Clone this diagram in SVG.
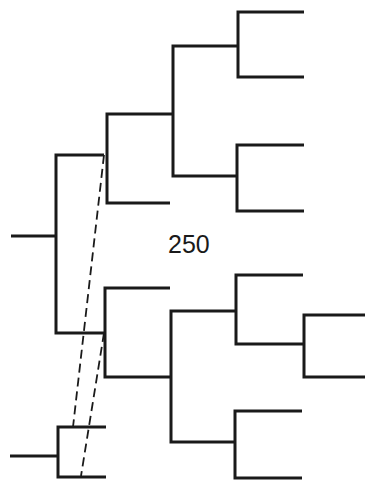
<svg xmlns="http://www.w3.org/2000/svg" width="365" height="480" viewBox="0 0 365 480">
<style>
.e{fill:none;stroke:#1a1a1a;stroke-width:3;stroke-linecap:butt;stroke-linejoin:miter}
.d{fill:none;stroke:#1a1a1a;stroke-width:1.8;stroke-dasharray:9 5}
.t{font-family:"Liberation Sans",Arial,sans-serif;font-size:25px;fill:#1a1a1a}
</style>
<rect width="365" height="480" fill="#fff"/>
<g id="connectors">
<path class="e" d="M11 236 H56"/>
<path class="e" d="M104 155 H56 V333 H105"/>
<path class="e" d="M170 203 H107 V114 H173"/>
<path class="e" d="M236 176 H173 V46 H238"/>
<path class="e" d="M304 12 H238 V77 H304"/>
<path class="e" d="M304 145 H237 V211 H304"/>
<path class="e" d="M170 288 H105 V377 H171"/>
<path class="e" d="M236 311 H171 V442 H235"/>
<path class="e" d="M303 275 H236 V344 H304"/>
<path class="e" d="M365 315 H304 V377 H365"/>
<path class="e" d="M302 411 H235 V478 H302"/>
<path class="e" d="M10 456 H58"/>
<path class="e" d="M106 427 H58 V477 H106"/>
<path class="d" d="M104 155 L73 427"/>
<path class="d" d="M104 333 L81 476"/>
</g>
<g id="label"><text class="t" x="168" y="253">250</text></g>
</svg>
